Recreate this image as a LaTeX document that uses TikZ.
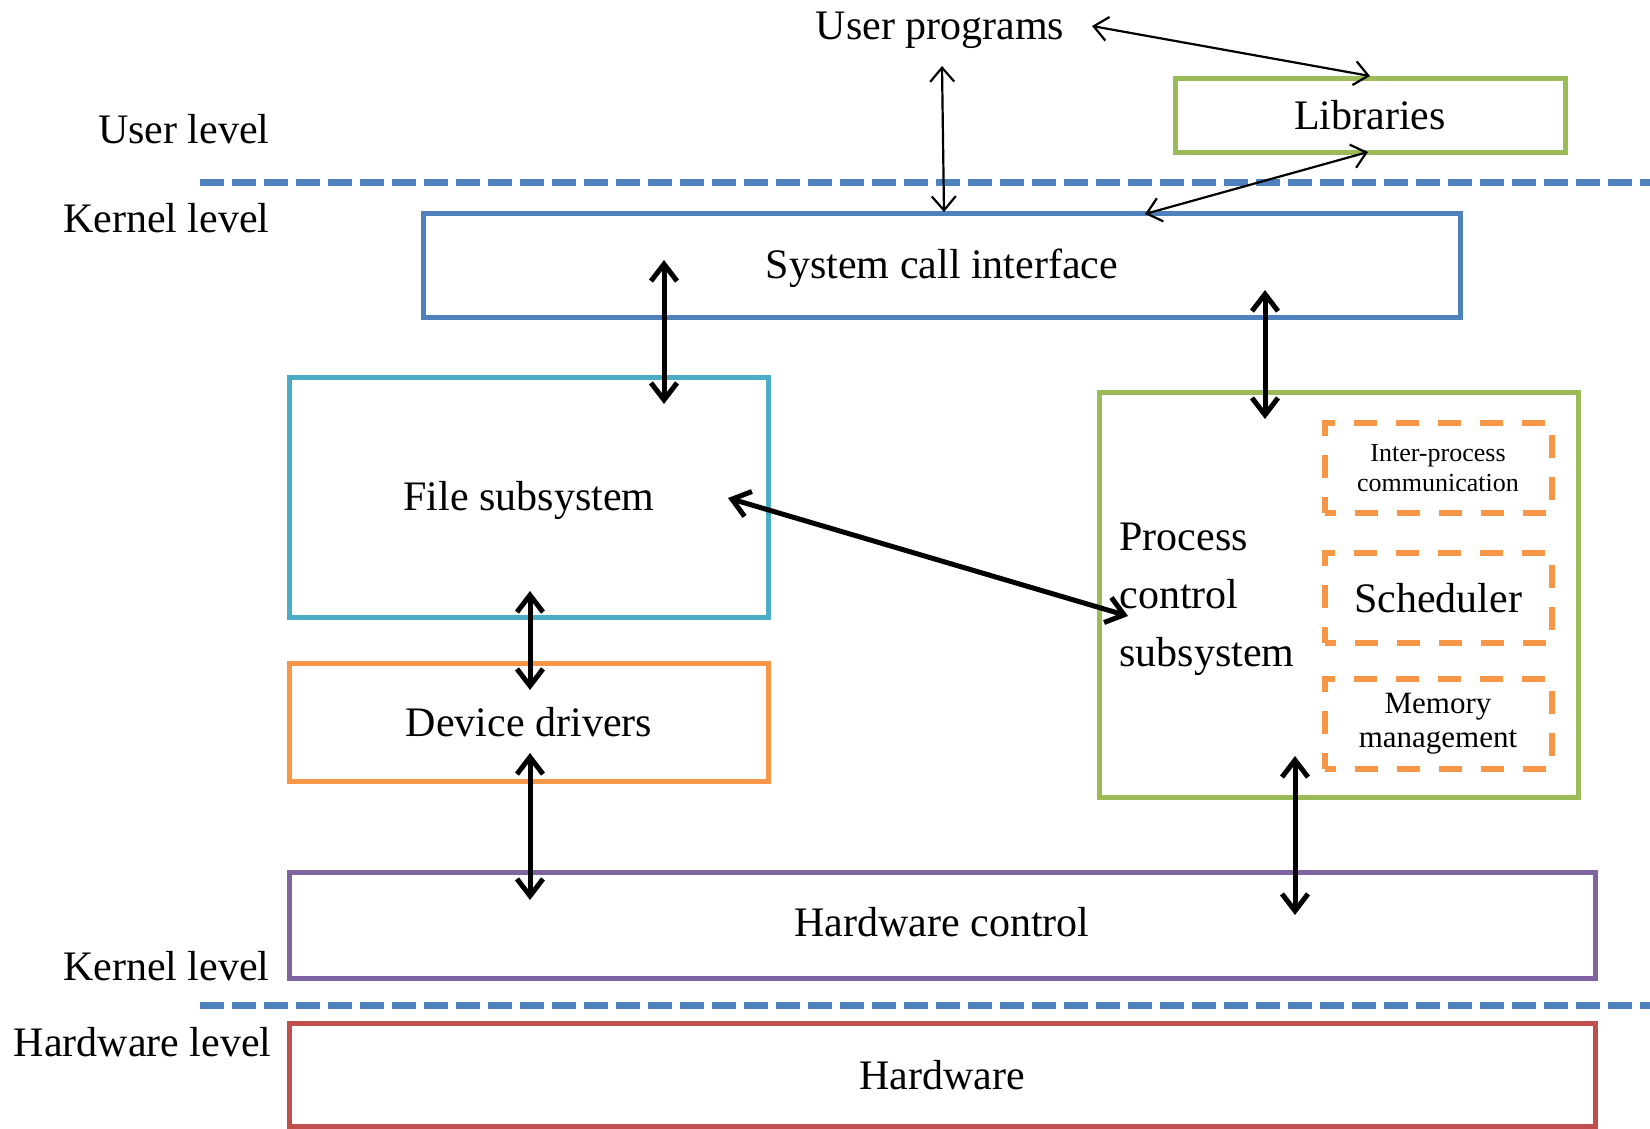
\documentclass[tikz,border=0pt]{standalone}
\usepackage{fontspec}
\setmainfont{Liberation Serif}
\usetikzlibrary{arrows.meta}

\definecolor{lvlblue}{HTML}{4F81BD}
\definecolor{libgreen}{HTML}{9BBB59}
\definecolor{filecyan}{HTML}{4BACC6}
\definecolor{drvorange}{HTML}{F79646}
\definecolor{hwpurple}{HTML}{8064A2}
\definecolor{hwred}{HTML}{C0504D}

\begin{document}
\begin{tikzpicture}[x=1pt,y=-1pt,
  every node/.style={font=\fontsize{42}{58}\selectfont},
  box/.style={draw,line width=5pt,inner sep=0pt},
  part/.style={draw=drvorange,line width=6pt,dash pattern=on 23pt off 19pt,dash phase=12pt,
    minimum width=227pt,minimum height=90pt,inner sep=0pt,align=center},
  levelline/.style={draw=lvlblue,line width=7pt,dash pattern=on 24pt off 8pt},
  thinarrow/.style={line width=2.2pt,
    {Straight Barb[length=14pt,width=24pt]}-{Straight Barb[length=14pt,width=24pt]}},
  thickarrow/.style={line width=5pt,
    {Straight Barb[length=17pt,width=26pt]}-{Straight Barb[length=17pt,width=26pt]}}]
\useasboundingbox (0,0) rectangle (1650,1128);
% Level separators
\draw[levelline] (200,182) -- (1650,182);
\draw[levelline] (200,1005) -- (1650,1005);
% Level names
\node[anchor=east] (userlvl) at (273,129) {User level};
\node[anchor=east] (kernlvl) at (273,218) {Kernel level};
\node[anchor=east] (kernlvl2) at (273,966) {Kernel level};
\node[anchor=east] (hwlvl) at (275,1042) {Hardware level};
% User side
\node (uprog) at (940,30) {User programs};
\node[box,draw=libgreen,minimum width=390pt,minimum height=74pt] (lib) at (1370,115) {Libraries};
% Kernel boxes
\node[box,draw=lvlblue,minimum width=1037pt,minimum height=104pt,text depth=2pt] (sci) at (942,265) {System call interface};
\node[box,draw=filecyan,minimum width=479pt,minimum height=240pt,text depth=3pt] (fs) at (529,497) {File subsystem};
\node[box,draw=drvorange,minimum width=479pt,minimum height=118pt] (dd) at (529,722) {Device drivers};
\node[box,draw=libgreen,minimum width=479pt,minimum height=405pt] (pcs) at (1339,595) {};
\node[anchor=west,align=left] (pcstext) at (1116,599) {Process\\control\\subsystem};
\node[part,font=\fontsize{26}{30}\selectfont] (ipc) at (1438,468) {Inter-process\\communication};
\node[part] (sched) at (1438,598) {Scheduler};
\node[part,font=\fontsize{31}{34}\selectfont] (mem) at (1438,724) {Memory\\management};
\node[box,draw=hwpurple,minimum width=1306pt,minimum height=106pt,text height=24pt] (hwc) at (942,925) {Hardware control};
% Hardware
\node[box,draw=hwred,minimum width=1306pt,minimum height=103pt] (hw) at (942,1075) {Hardware};
% Arrow ends
\coordinate (up1) at (1092,26);
\coordinate (lib1) at (1370,76);
\coordinate (up2) at (942,66);
\coordinate (sci1) at (944,212);
\coordinate (lib2) at (1368,152);
\coordinate (sci2) at (1145,214);
\coordinate (sci3) at (664,260);
\coordinate (fs1) at (664,404);
\coordinate (sci4) at (1265,290);
\coordinate (pcs1) at (1265,419);
\coordinate (fs2) at (728,498);
\coordinate (pcs2) at (1128,616);
\coordinate (fs3) at (530,591);
\coordinate (dd1) at (530,690);
\coordinate (dd2) at (530,753);
\coordinate (hwc1) at (530,900);
\coordinate (pcs3) at (1295,756);
\coordinate (hwc2) at (1295,915);
% Thin arrows on user level
\draw[thinarrow] (up1) -- (lib1);
\draw[thinarrow] (up2) -- (sci1);
\draw[thinarrow] (lib2) -- (sci2);
% Thick arrows in kernel
\draw[thickarrow] (sci3) -- (fs1);
\draw[thickarrow] (sci4) -- (pcs1);
\draw[thickarrow] (fs2) -- (pcs2);
\draw[thickarrow] (fs3) -- (dd1);
\draw[thickarrow] (dd2) -- (hwc1);
\draw[thickarrow] (pcs3) -- (hwc2);
\end{tikzpicture}
\end{document}
